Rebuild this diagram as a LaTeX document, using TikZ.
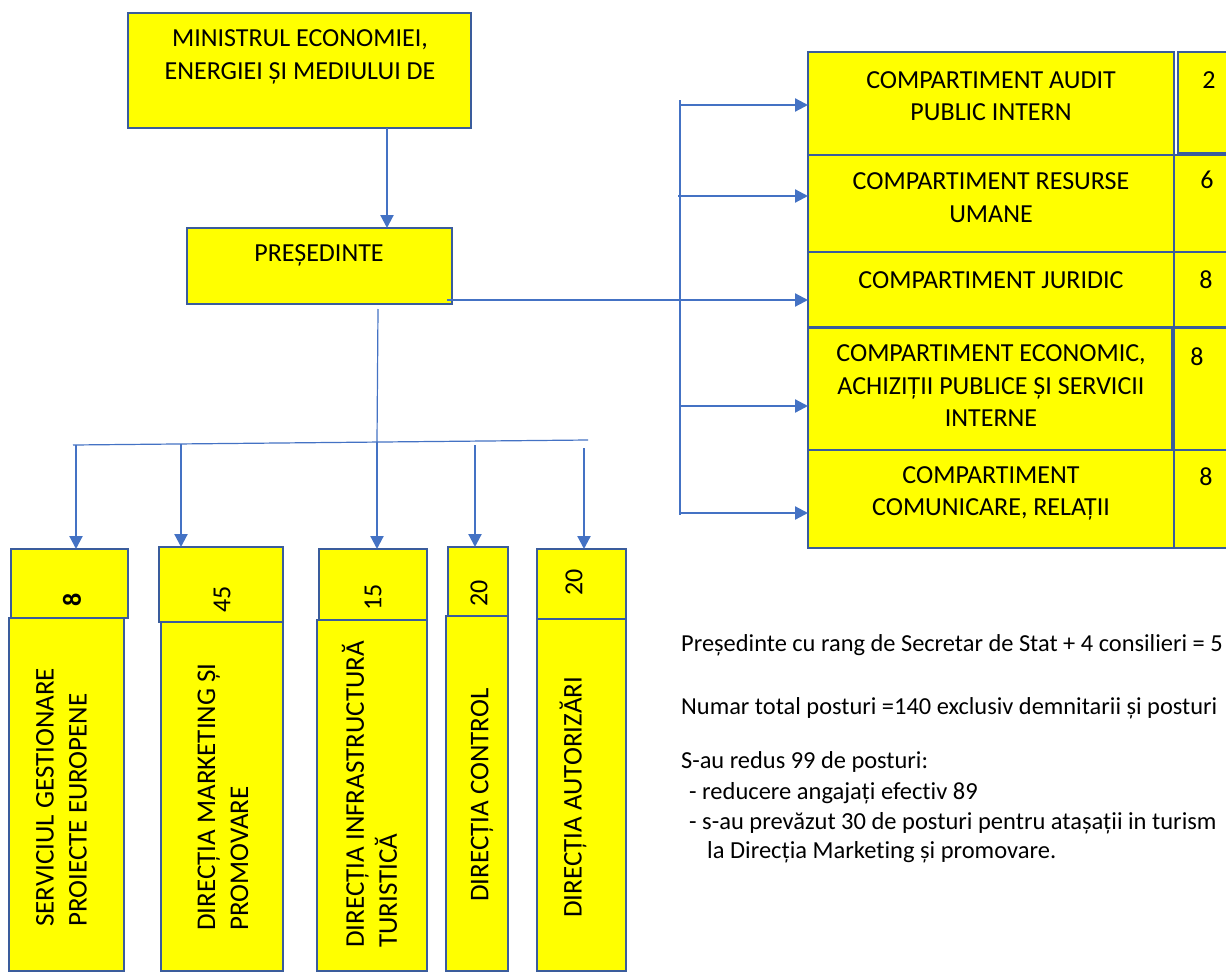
\documentclass[tikz,border=0pt]{standalone}
\usepackage{fontspec}
\setmainfont{Carlito}[Ligatures=NoCommon]
\usetikzlibrary{arrows.meta}
\definecolor{bord}{HTML}{3A5C9C}
\definecolor{lineblue}{HTML}{4472C4}
\definecolor{yel}{HTML}{FFFF00}
\tikzset{
 box/.style={draw=bord, line width=2.2pt, fill=yel, inner sep=0pt, outer sep=0pt, anchor=north west},
 btext/.style={font=\fontsize{26}{32.5}\selectfont, align=center, inner sep=0pt},
 vtext/.style={font=\fontsize{27}{33}\selectfont, align=left, inner sep=0pt, rotate=90, anchor=west},
 vnum/.style={font=\fontsize{26}{32.5}\selectfont, inner sep=0pt, rotate=90},
 arr/.style={draw=lineblue, line width=2.2pt, -{Triangle[length=13pt,width=13pt]}},
 thinline/.style={draw=lineblue, line width=1.2pt},
 note/.style={font=\fontsize{24.4}{29}\selectfont, anchor=west, inner sep=0pt},
 subnote/.style={font=\fontsize{24.5}{28}\selectfont, anchor=west, inner sep=0pt},
}
\newcommand\bx[5]{\node[box, minimum width=#4pt, minimum height=#5pt] (#1) at (#2,#3) {};}
\begin{document}
\begin{tikzpicture}[x=1pt,y=-1pt]
\useasboundingbox (0,0) rectangle (1226,974);
\clip (0,0) rectangle (1226,974);
\fill[white] (0,0) rectangle (1226,974);

% top
\bx{top}{128}{13}{343}{115}
\node[btext] (toptext) at (300,57) {MINISTRUL ECONOMIEI,\\ENERGIEI ȘI MEDIULUI DE};
\bx{pres}{187}{228}{265}{76}
\node[btext] (prestext) at (319,255) {PREȘEDINTE};

% right boxes
\bx{r1}{808}{52}{366}{103}
\bx{r1n}{1178}{52}{70}{101}
\bx{r2}{808}{155}{366}{97}
\bx{r2n}{1174}{155}{74}{97}
\bx{r3}{808}{252}{366}{75}
\bx{r3n}{1174}{252}{74}{75}
\bx{r4}{808}{328}{364}{122}
\bx{r4n}{1174}{328}{74}{122}
\bx{r5}{808}{450}{366}{98}
\bx{r5n}{1174}{450}{74}{98}
\node[btext] (r1t) at (991,96) {COMPARTIMENT AUDIT\\PUBLIC INTERN};
\node[btext] (r2t) at (991,197.5) {COMPARTIMENT RESURSE\\UMANE};
\node[btext] (r3t) at (991,280) {COMPARTIMENT JURIDIC};
\node[btext] (r4t) at (991,386) {COMPARTIMENT ECONOMIC,\\ACHIZIȚII PUBLICE ȘI SERVICII\\INTERNE};
\node[btext] (r5t) at (991,493.5) {COMPARTIMENT\\COMUNICARE, RELAȚII};
\node[btext] (r1v) at (1209,80) {2};
\node[btext] (r2v) at (1207,180) {6};
\node[btext] (r3v) at (1206,280) {8};
\node[btext] (r4v) at (1197,357) {8};
\node[btext] (r5v) at (1206,477) {8};

% bottom boxes
\bx{b1n}{11}{549}{117}{69}
\bx{b1}{9}{618}{115}{353}
\bx{b2n}{159}{547}{124}{75}
\bx{b2}{161}{622}{122}{349}
\bx{b3n}{319}{549}{108}{71}
\bx{b3}{317}{620}{110}{351}
\bx{b4n}{448}{547}{60}{69}
\bx{b4}{446}{616}{62}{355}
\bx{b5n}{537}{549}{89}{70}
\bx{b5}{537}{619}{89}{352}
\node[vnum, font=\fontsize{26}{32.5}\selectfont\bfseries] (b1v) at (72,600) {8};
\node[vnum] (b2v) at (222,599) {45};
\node[vnum] (b3v) at (373,597) {15};
\node[vnum] (b4v) at (479,593) {20};
\node[vnum] (b5v) at (574,582) {20};
\node[vtext] (b1t) at (61.5,927) {SERVICIUL GESTIONARE\\PROIECTE EUROPENE};
\node[vtext] (b2t) at (223,931) {DIRECȚIA MARKETING ȘI\\PROMOVARE};
\node[vtext] (b3t) at (369.5,948) {DIRECȚIA INFRASTRUCTURĂ\\TURISTICĂ};
\node[vtext] (b4t) at (482,902) {DIRECȚIA CONTROL};
\node[vtext] (b5t) at (573,918) {DIRECȚIA AUTORIZĂRI};

% connectors
\coordinate (ta) at (387,0);
\draw[arr] (top.south -| ta) -- (pres.north -| ta);

\coordinate (rbt) at (680,100);
\coordinate (rbb) at (680,515);
\draw[thinline] (rbt) -- (rbb);
\coordinate (ra1) at (680,105);
\coordinate (ra2) at (678,196);
\coordinate (ra4) at (680,406);
\coordinate (ra5) at (680,513);
\draw[arr] (ra1) -- (ra1 -| r1.west);
\draw[arr] (ra2) -- (ra2 -| r2.west);
\draw[arr] (ra4) -- (ra4 -| r4.west);
\draw[arr] (ra5) -- (ra5 -| r5.west);
\coordinate (pa) at (447,300);
\draw[arr] (pa) -- (pa -| r3.west);

\coordinate (pv) at (378,309);
\coordinate (d3) at (377,442);
\draw[thinline] (pv) -- (d3);
\coordinate (busL) at (73,445);
\coordinate (busR) at (588,440);
\draw[thinline] (busL) -- (busR);
\coordinate (d1) at (76,445);
\coordinate (d2) at (181,444);
\coordinate (d4) at (475,445);
\coordinate (d5) at (584,448);
\draw[arr] (d1) -- (d1 |- b1n.north);
\draw[arr] (d2) -- (d2 |- b2n.north);
\draw[arr] (d3) -- (d3 |- b3n.north);
\draw[arr] (d4) -- (d4 |- b4n.north);
\draw[arr] (d5) -- (d5 |- b5n.north);

% notes
\node[note] (n1) at (681,645) {Președinte cu rang de Secretar de Stat + 4 consilieri = 5};
\node[note] (n2) at (681,708) {Numar total posturi =140 exclusiv demnitarii și posturi};
\node[note] (n3) at (681,762) {S-au redus 99 de posturi:};
\node[subnote] (n4) at (689,793) {- reducere angajați efectiv 89};
\node[subnote] (n5) at (689,823) {- s-au prevăzut 30 de posturi pentru atașații in turism};
\node[subnote] (n6) at (707,852) {la Direcția Marketing și promovare.};
\end{tikzpicture}
\end{document}
